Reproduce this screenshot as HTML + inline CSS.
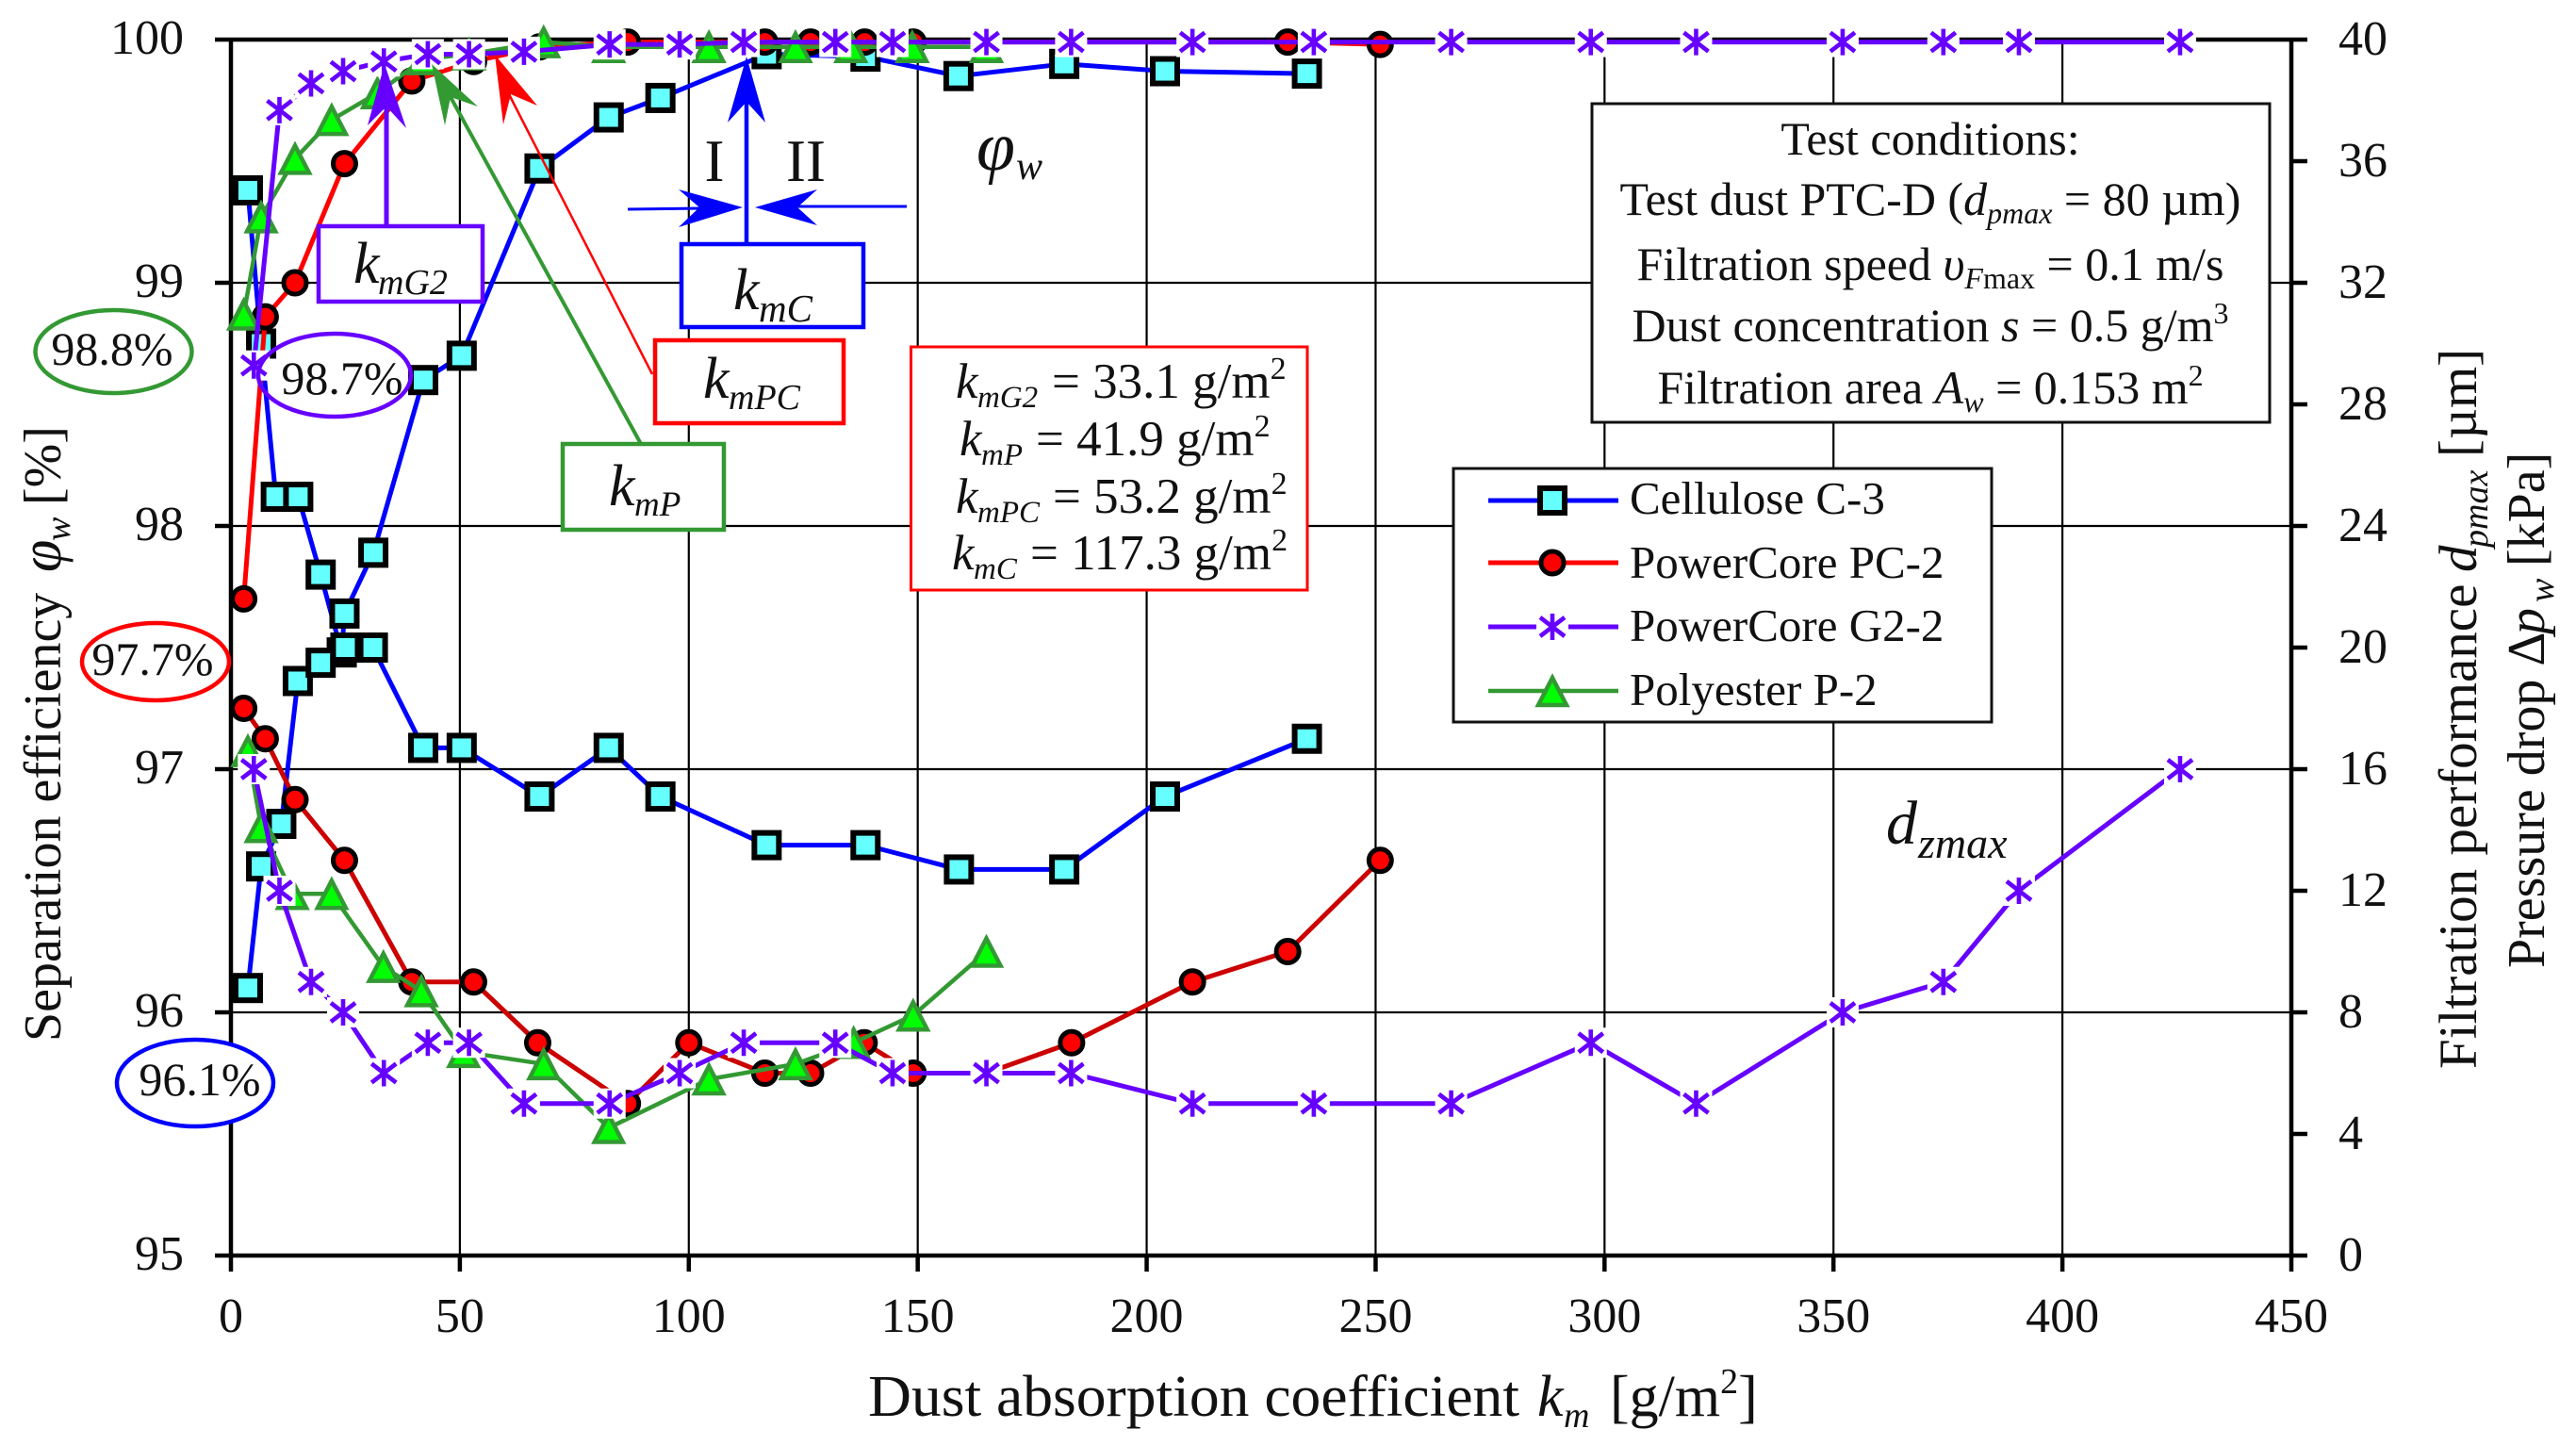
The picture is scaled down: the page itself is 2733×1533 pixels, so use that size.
<!DOCTYPE html>
<html lang="en">
<head>
<meta charset="utf-8">
<title>Separation efficiency and filtration performance vs dust absorption coefficient</title>
<style>
html,body{margin:0;padding:0;background:#fff;}
svg{display:block;}
text{font-family:"Liberation Serif","DejaVu Serif",serif;fill:#111;}
.i{font-style:italic;}
</style>
</head>
<body>
<svg id="chart" xmlns="http://www.w3.org/2000/svg" width="2733" height="1533" viewBox="0 0 2733 1533">
  <rect x="0" y="0" width="2733" height="1533" fill="#fff"/>
  <g id="grid"></g>
  <g id="axes"></g>
  <g id="series"></g>

  <text y="1502" font-size="62"><tspan x="921" textLength="691" lengthAdjust="spacingAndGlyphs">Dust absorption coefficient</tspan><tspan class="i" x="1631">k</tspan><tspan class="i" x="1659" dy="12" font-size="38">m</tspan><tspan x="1708" dy="-12">[g/m</tspan><tspan dy="-24" font-size="38">2</tspan><tspan dy="24">]</tspan></text>

  <text transform="translate(64,1105) rotate(-90)" font-size="56"><tspan x="0">Separation efficiency</tspan><tspan class="i" x="498" font-size="62">φ</tspan><tspan class="i" x="531" dy="10" font-size="38">w</tspan><tspan x="569" dy="-10">[%]</tspan></text>

  <text transform="translate(2627,1134) rotate(-90)" font-size="57"><tspan x="0">Filtration performance</tspan><tspan class="i" x="527">d</tspan><tspan class="i" x="553" dy="12" font-size="38">pmax</tspan><tspan x="649" dy="-12">[µm]</tspan></text>
  <text transform="translate(2699,1027) rotate(-90)" font-size="56"><tspan x="0">Pressure drop Δ</tspan><tspan class="i" x="354">p</tspan><tspan class="i" x="388" dy="10" font-size="38">w</tspan><tspan x="426" dy="-10">[kPa]</tspan></text>

  <!-- annotation arrows -->
  <g>
    <line x1="410" y1="240" x2="410" y2="112" stroke="#6600ff" stroke-width="5"/>
    <polygon points="408,68 431,136 410,113 390,133" fill="#6600ff"/>
  </g>
  <g>
    <line x1="792" y1="259" x2="792" y2="105" stroke="#0000ff" stroke-width="4.5"/>
    <polygon points="792,60 812,130 792,108 772,130" fill="#0000ff"/>
  </g>
  <g>
    <line x1="666" y1="222" x2="745" y2="221" stroke="#0000ff" stroke-width="3"/>
    <polygon points="788,220 720,241 742,220 720,201" fill="#0000ff"/>
  </g>
  <g>
    <line x1="962" y1="219" x2="845" y2="219" stroke="#0000ff" stroke-width="3"/>
    <polygon points="801,220 867,239 846,220 867,201" fill="#0000ff"/>
  </g>
  <g>
    <line x1="692" y1="397" x2="540" y2="100" stroke="#ff0000" stroke-width="2.5"/>
    <polygon points="525,58 534,132 542,100 570,112" fill="#ff0000"/>
  </g>
  <g>
    <line x1="680" y1="471" x2="478" y2="103" stroke="#339933" stroke-width="4"/>
    <polygon points="458,68 472,133 478,103 507,113" fill="#339933"/>
  </g>

  <text x="758" y="192" font-size="63" text-anchor="middle">I</text>
  <text x="855" y="192" font-size="63" text-anchor="middle">II</text>

  <text y="180" font-size="74" class="i"><tspan x="1036">φ</tspan><tspan x="1078" dy="10" font-size="42">w</tspan></text>
  <text y="895" font-size="66" class="i"><tspan x="2001">d</tspan><tspan x="2035" dy="15" font-size="46">zmax</tspan></text>

  <!-- callout boxes -->
  <g>
    <rect x="338" y="240" width="174" height="80" fill="#fff" stroke="#6600ff" stroke-width="4.5"/>
    <text y="300" font-size="62" class="i"><tspan x="375">k</tspan><tspan x="401" dy="12" font-size="38">mG2</tspan></text>
  </g>
  <g>
    <rect x="723" y="259" width="193" height="88" fill="#fff" stroke="#0000ff" stroke-width="4.5"/>
    <text y="328" font-size="62" class="i"><tspan x="778">k</tspan><tspan x="805" dy="13" font-size="41">mC</tspan></text>
  </g>
  <g>
    <rect x="695" y="361" width="200" height="88" fill="#fff" stroke="#ff0000" stroke-width="4.5"/>
    <text y="422" font-size="62" class="i"><tspan x="746">k</tspan><tspan x="773" dy="12" font-size="38">mPC</tspan></text>
  </g>
  <g>
    <rect x="597" y="471" width="171" height="91" fill="#fff" stroke="#339933" stroke-width="4.5"/>
    <text y="536" font-size="62" class="i"><tspan x="646">k</tspan><tspan x="673" dy="11" font-size="37">mP</tspan></text>
  </g>

  <g>
    <rect x="966.5" y="368" width="420.5" height="258" fill="#fff" stroke="#ff0000" stroke-width="3"/>
    <text y="422" font-size="53"><tspan class="i" x="1014">k</tspan><tspan class="i" x="1037" dy="10" font-size="33">mG2</tspan><tspan dy="-10" x="1116">= 33.1 g/m</tspan><tspan dy="-20" font-size="34">2</tspan></text>
    <text y="483" font-size="53"><tspan class="i" x="1018">k</tspan><tspan class="i" x="1041" dy="10" font-size="33">mP</tspan><tspan dy="-10" x="1099">= 41.9 g/m</tspan><tspan dy="-20" font-size="34">2</tspan></text>
    <text y="544" font-size="53"><tspan class="i" x="1014">k</tspan><tspan class="i" x="1037" dy="10" font-size="33">mPC</tspan><tspan dy="-10" x="1117">= 53.2 g/m</tspan><tspan dy="-20" font-size="34">2</tspan></text>
    <text y="604" font-size="53"><tspan class="i" x="1010">k</tspan><tspan class="i" x="1033" dy="10" font-size="33">mC</tspan><tspan dy="-10" x="1093">= 117.3 g/m</tspan><tspan dy="-20" font-size="34">2</tspan></text>
  </g>

  <g>
    <rect x="1689" y="110" width="719" height="338" fill="#fff" stroke="#111" stroke-width="3"/>
    <text x="2048" y="164" font-size="50" text-anchor="middle">Test conditions:</text>
    <text x="2048" y="228" font-size="50" text-anchor="middle">Test dust PTC-D (<tspan class="i">d</tspan><tspan class="i" dy="9" font-size="32">pmax</tspan><tspan dy="-9"> = 80 µm)</tspan></text>
    <text x="2048" y="297" font-size="50" text-anchor="middle">Filtration speed <tspan class="i">υ</tspan><tspan class="i" dy="9" font-size="32">F</tspan><tspan font-size="32">max</tspan><tspan dy="-9"> = 0.1 m/s</tspan></text>
    <text x="2048" y="362" font-size="50" text-anchor="middle">Dust concentration <tspan class="i">s</tspan> = 0.5 g/m<tspan dy="-19" font-size="32">3</tspan></text>
    <text x="2048" y="428" font-size="50" text-anchor="middle">Filtration area <tspan class="i">A</tspan><tspan class="i" dy="9" font-size="32">w</tspan><tspan dy="-9"> = 0.153 m</tspan><tspan dy="-19" font-size="32">2</tspan></text>
  </g>

  <g id="legend">
    <rect x="1542" y="497" width="571" height="269" fill="#fff" stroke="#111" stroke-width="3"/>
    <text x="1729" y="545" font-size="49">Cellulose C-3</text>
    <text x="1729" y="613" font-size="49">PowerCore PC-2</text>
    <text x="1729" y="680" font-size="49">PowerCore G2-2</text>
    <text x="1729" y="748" font-size="49">Polyester P-2</text>
  </g>

  <!-- initial efficiency ellipses -->
  <g>
    <ellipse cx="120.5" cy="373" rx="83" ry="44" fill="#fff" stroke="#339933" stroke-width="4.5"/>
    <text x="119" y="387" font-size="50" text-anchor="middle">98.8%</text>
  </g>
  <g>
    <ellipse cx="355" cy="398" rx="81" ry="44" fill="none" stroke="#6600ff" stroke-width="4.5"/>
    <text x="363" y="418" font-size="50" text-anchor="middle">98.7%</text>
  </g>
  <g>
    <ellipse cx="165" cy="702" rx="78" ry="41" fill="#fff" stroke="#ff0000" stroke-width="4.5"/>
    <text x="162" y="716" font-size="50" text-anchor="middle">97.7%</text>
  </g>
  <g>
    <ellipse cx="207" cy="1149" rx="83" ry="46" fill="#fff" stroke="#0000ff" stroke-width="4.5"/>
    <text x="212" y="1162" font-size="50" text-anchor="middle">96.1%</text>
  </g>
</svg>

<script>
// ---- axis ticks ----
var xTicks = [0, 50, 100, 150, 200, 250, 300, 350, 400, 450];
var leftTicks = [95, 96, 97, 98, 99, 100];
var rightTicks = [0, 4, 8, 12, 16, 20, 24, 28, 32, 36, 40];

// ---- Cellulose C-3 ----
var celluloseEffK = [3.7, 6.6, 9.8, 14.7, 19.6, 24.2, 24.8, 31.1, 42, 50.4, 67.4, 82.5, 93.8, 117, 138.6, 158.9, 182, 204, 235];
var celluloseEff = [99.38, 98.75, 98.12, 98.12, 97.8, 97.48, 97.64, 97.89, 98.6, 98.7, 99.47, 99.68, 99.76, 99.94, 99.93, 99.85, 99.9, 99.87, 99.86];
var celluloseDustK = [3.7, 6.6, 11, 14.6, 19.6, 25, 31, 42, 50.4, 67.4, 82.5, 93.8, 117, 138.6, 159, 182, 204, 235];
var celluloseDust = [8.8, 12.8, 14.2, 18.9, 19.5, 20, 20, 16.7, 16.7, 15.1, 16.7, 15.1, 13.5, 13.5, 12.7, 12.7, 15.1, 17];

// ---- PowerCore PC-2 ----
var pcEffK = [2.8, 7.5, 14, 24.8, 39.5, 53, 67.4, 86.6, 116.6, 126.6, 138.4, 149, 230.8, 251];
var pcEff = [97.7, 98.86, 99, 99.49, 99.83, 99.91, 99.97, 99.99, 99.99, 99.99, 99.99, 99.99, 99.99, 99.98];
var pcDustK = [2.8, 7.5, 14, 24.8, 39.5, 53, 67, 86.6, 100, 116.6, 126.6, 138.3, 149, 165, 183.6, 210, 230.8, 251];
var pcDust = [18, 17, 15, 13, 9, 9, 7, 5, 7, 6, 6, 7, 6, 6, 7, 9, 10, 13];

// ---- Polyester P-2 ----
var pEffK = [2.8, 6.6, 14, 22, 32, 42, 52, 68.3, 82.5, 104.4, 123.3, 135.4, 148.8, 165];
var pEff = [98.87, 99.27, 99.51, 99.67, 99.78, 99.92, 99.94, 99.99, 99.97, 99.97, 99.97, 99.97, 99.97, 99.97];
var pDustK = [3.7, 6.6, 13.4, 22, 33.3, 41.6, 50.8, 68.3, 82.5, 104.4, 123.3, 136, 149, 165];
var pDust = [16.6, 14.1, 11.9, 11.9, 9.5, 8.7, 6.7, 6.3, 4.2, 5.8, 6.3, 7, 7.9, 10];

// ---- PowerCore G2-2 ----
var g2K = [5, 10.6, 17.5, 24.5, 33.4, 43, 52, 64, 82.7, 98, 112, 132, 144.5, 165, 183.5, 210, 236.5, 266.5, 297, 320, 352, 374, 390.5, 425.7];
var g2Eff = [98.66, 99.71, 99.82, 99.87, 99.91, 99.94, 99.94, 99.95, 99.98, 99.98, 99.99, 99.99, 99.99, 99.99, 99.99, 99.99, 99.99, 99.99, 99.99, 99.99, 99.99, 99.99, 99.99, 99.99];
var g2Dust = [16, 12, 9, 8, 6, 7, 7, 5, 5, 6, 7, 7, 6, 6, 6, 5, 5, 5, 7, 5, 8, 9, 12, 16];

// ---- scales ----
var PLOT_LEFT = 245, PLOT_RIGHT = 2431, PLOT_TOP = 42, PLOT_BOTTOM = 1332;
function xScale(k) { return PLOT_LEFT + (k / 450) * (PLOT_RIGHT - PLOT_LEFT); }
function yLeft(v) { return PLOT_TOP + ((100 - v) / 5) * (PLOT_BOTTOM - PLOT_TOP); }
function yRight(d) { return PLOT_BOTTOM - (d / 40) * (PLOT_BOTTOM - PLOT_TOP); }

var NS = 'http://www.w3.org/2000/svg';
function make(parent, tag, props) {
  var el = document.createElementNS(NS, tag);
  for (var p in props) { el.setAttribute(p, props[p]); }
  parent.appendChild(el);
  return el;
}
function hline(parent, name, x1, y1, x2, y2, width, color) {
  var el = make(parent, 'line', { x1: x1, y1: y1, x2: x2, y2: y2, stroke: color, 'stroke-width': width });
  
  
  return el;
}
function label(parent, name, x, y, str, anchor) {
  var el = make(parent, 'text', { x: x, y: y, 'font-size': 52, 'text-anchor': anchor });
  el.textContent = str;
  
  
  return el;
}

var grid = document.getElementById('grid');
var axes = document.getElementById('axes');

xTicks.forEach(function (t) {
  if (t > 0 && t < 450) { hline(grid, 'x-gridline-' + t, xScale(t), PLOT_TOP, xScale(t), PLOT_BOTTOM, 2.2, '#000'); }
});
leftTicks.forEach(function (t) {
  if (t > 95 && t < 100) { hline(grid, 'y-gridline-' + t, PLOT_LEFT, yLeft(t), PLOT_RIGHT, yLeft(t), 2.2, '#000'); }
});

hline(axes, 'left-axis-line', PLOT_LEFT, PLOT_TOP - 2, PLOT_LEFT, PLOT_BOTTOM + 2, 4.5, '#000');
hline(axes, 'right-axis-line', PLOT_RIGHT, PLOT_TOP - 2, PLOT_RIGHT, PLOT_BOTTOM + 2, 4.5, '#000');
hline(axes, 'top-axis-line', PLOT_LEFT, PLOT_TOP, PLOT_RIGHT, PLOT_TOP, 4.5, '#000');
hline(axes, 'bottom-axis-line', PLOT_LEFT, PLOT_BOTTOM, PLOT_RIGHT, PLOT_BOTTOM, 4.5, '#000');

xTicks.forEach(function (t) {
  hline(axes, 'x-tick-' + t, xScale(t), PLOT_BOTTOM, xScale(t), PLOT_BOTTOM + 17, 4.5, '#000');
  label(axes, 'x-tick-label-' + t, xScale(t), 1413, String(t), 'middle');
});
leftTicks.forEach(function (t) {
  hline(axes, 'left-tick-' + t, PLOT_LEFT - 17, yLeft(t), PLOT_LEFT, yLeft(t), 4.5, '#000');
  label(axes, 'left-tick-label-' + t, 195, yLeft(t) + 15, String(t), 'end');
});
rightTicks.forEach(function (t) {
  hline(axes, 'right-tick-' + t, PLOT_RIGHT, yRight(t), PLOT_RIGHT + 17, yRight(t), 4.5, '#000');
  label(axes, 'right-tick-label-' + t, 2481, yRight(t) + 16, String(t), 'start');
});

// ---- markers ----
function squareMarker(g, x, y) {
  make(g, 'rect', { x: x - 13, y: y - 13, width: 26, height: 26, fill: '#66ffff', stroke: '#000', 'stroke-width': 6 });
}
function circleMarker(g, x, y) {
  make(g, 'circle', { cx: x, cy: y, r: 12, fill: '#ff0000', stroke: '#000', 'stroke-width': 5 });
}
function triangleMarker(g, x, y) {
  make(g, 'polygon', { points: (x) + ',' + (y - 14) + ' ' + (x + 15) + ',' + (y + 15) + ' ' + (x - 15) + ',' + (y + 15), fill: '#00ff00', stroke: '#339933', 'stroke-width': 4.5 });
}
function starMarker(g, x, y) {
  make(g, 'rect', { x: x - 17, y: y - 16, width: 34, height: 32, fill: '#fff' });
  make(g, 'path', { d: 'M' + x + ' ' + (y - 14) + 'V' + (y + 14) + 'M' + (x - 13) + ' ' + (y - 10) + 'L' + (x + 13) + ' ' + (y + 10) + 'M' + (x - 13) + ' ' + (y + 10) + 'L' + (x + 13) + ' ' + (y - 10), fill: 'none', stroke: '#6600ff', 'stroke-width': 4.6 });
}

function drawSeries(name, ks, vs, yFn, color, width, marker) {
  var root = document.getElementById('series');
  var g = make(root, 'g', {});
  
  
  var pts = ks.map(function (k, i) { return xScale(k) + ',' + yFn(vs[i]); }).join(' ');
  var line = make(g, 'polyline', { points: pts, fill: 'none', stroke: color, 'stroke-width': width, 'stroke-linejoin': 'round' });
  
  
  return { g: g, ks: ks, vs: vs, yFn: yFn, marker: marker };
}
function drawMarks(s) {
  s.ks.forEach(function (k, i) { s.marker(s.g, xScale(k), s.yFn(s.vs[i])); });
}

var allSeries = [
  drawSeries('cellulose-efficiency', celluloseEffK, celluloseEff, yLeft, '#0000ff', 5, squareMarker),
  drawSeries('cellulose-dust-size', celluloseDustK, celluloseDust, yRight, '#0000ff', 5, squareMarker),
  drawSeries('powercore-pc2-efficiency', pcEffK, pcEff, yLeft, '#ff0000', 5, circleMarker),
  drawSeries('powercore-pc2-dust-size', pcDustK, pcDust, yRight, '#cc0000', 5, circleMarker),
  drawSeries('polyester-efficiency', pEffK, pEff, yLeft, '#339933', 4.5, triangleMarker),
  drawSeries('polyester-dust-size', pDustK, pDust, yRight, '#339933', 4.5, triangleMarker),
  drawSeries('powercore-g2-efficiency', g2K, g2Eff, yLeft, '#6600ff', 5, starMarker),
  drawSeries('powercore-g2-dust-size', g2K, g2Dust, yRight, '#6600ff', 5, starMarker)
];
allSeries.forEach(function (s) {
  drawMarks(s);
});

// ---- legend samples ----
var legendGroup = document.getElementById('legend');
function legendSample(name, y, color, width, marker) {
  var g = make(legendGroup, 'g', {});
  
  
  make(g, 'line', { x1: 1579, y1: y, x2: 1717, y2: y, stroke: color, 'stroke-width': width });
  marker(g, 1647, y);
}
legendSample('legend-sample-cellulose', 531, '#0000ff', 5, squareMarker);
legendSample('legend-sample-powercore-pc2', 597, '#ff0000', 5, circleMarker);
legendSample('legend-sample-powercore-g2', 665, '#6600ff', 5, starMarker);
legendSample('legend-sample-polyester', 733, '#339933', 4.5, triangleMarker);
</script>
</body>
</html>
